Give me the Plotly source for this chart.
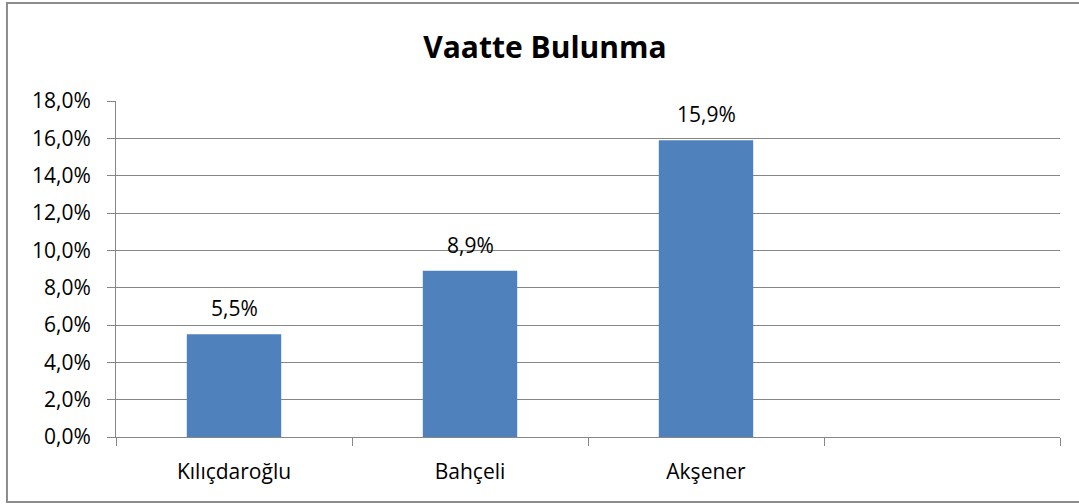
import plotly.graph_objects as go

# data
categories = ['Kılıçdaroğlu', 'Bahçeli', 'Akşener', ' ']
values = [5.5, 8.9, 15.9, None]
title_text = 'Vaatte Bulunma'

BAR_COLOR = '#4F81BD'
GRID = '#868686'
FONT = 'Open Sans'

fig = go.Figure()

fig.add_trace(go.Bar(
    x=categories,
    y=values,
    width=0.4,
    marker=dict(color=BAR_COLOR, line=dict(width=0)),
    hovertemplate='%{x}: %{y:.1f}%<extra></extra>'
))

# value labels above bars
annotations = []
for cat, val in zip(categories, values):
    if val is None:
        continue
    annotations.append(dict(
        x=cat, y=val, xref='x', yref='y',
        text=f'{val:.1f}%'.replace('.', ','),
        showarrow=False, yanchor='middle', yshift=26,
        font=dict(family=FONT, size=21, color='#000000')
    ))

fig.update_layout(
    width=1079,
    height=504,
    margin=dict(l=116, r=19, t=101, b=67),
    paper_bgcolor='white',
    plot_bgcolor='white',
    separators=',.',
    showlegend=False,
    bargap=0.6,
    title=dict(
        text='<b>' + title_text + '</b>',
        x=0.505, xanchor='center', y=0.905, yanchor='middle',
        font=dict(family=FONT, size=30, color='#000000')
    ),
    font=dict(family=FONT, size=21, color='#000000'),
    annotations=annotations,
    shapes=[dict(
        type='rect', xref='paper', yref='paper',
        x0=-0.1155, x1=1.06, y0=-0.1935, y1=1.2917,
        line=dict(color='#8C8C8C', width=2), layer='below'
    )],
)

fig.update_xaxes(
    type='category',
    showgrid=False,
    showline=True, linecolor=GRID, linewidth=1,
    ticks='outside', tickson='boundaries', ticklen=8, tickcolor=GRID, tickwidth=1,
    ticklabelstandoff=16,
    tickfont=dict(family=FONT, size=21, color='#000000'),
    mirror=False,
)

fig.update_yaxes(
    range=[0, 18],
    dtick=2,
    tickformat='.1f',
    ticksuffix='%',
    showgrid=True, gridcolor=GRID, gridwidth=1,
    showline=True, linecolor=GRID, linewidth=1,
    ticks='outside', ticklen=8, tickcolor=GRID, tickwidth=1,
    ticklabelstandoff=12,
    tickfont=dict(family=FONT, size=21, color='#000000'),
    zeroline=False,
)

# page has a default body margin; drop it so the figure sits at the top-left corner
fig.write_html(
    'out.html',
    config={'displayModeBar': False},
    post_script="document.body.style.margin='0';"
)
